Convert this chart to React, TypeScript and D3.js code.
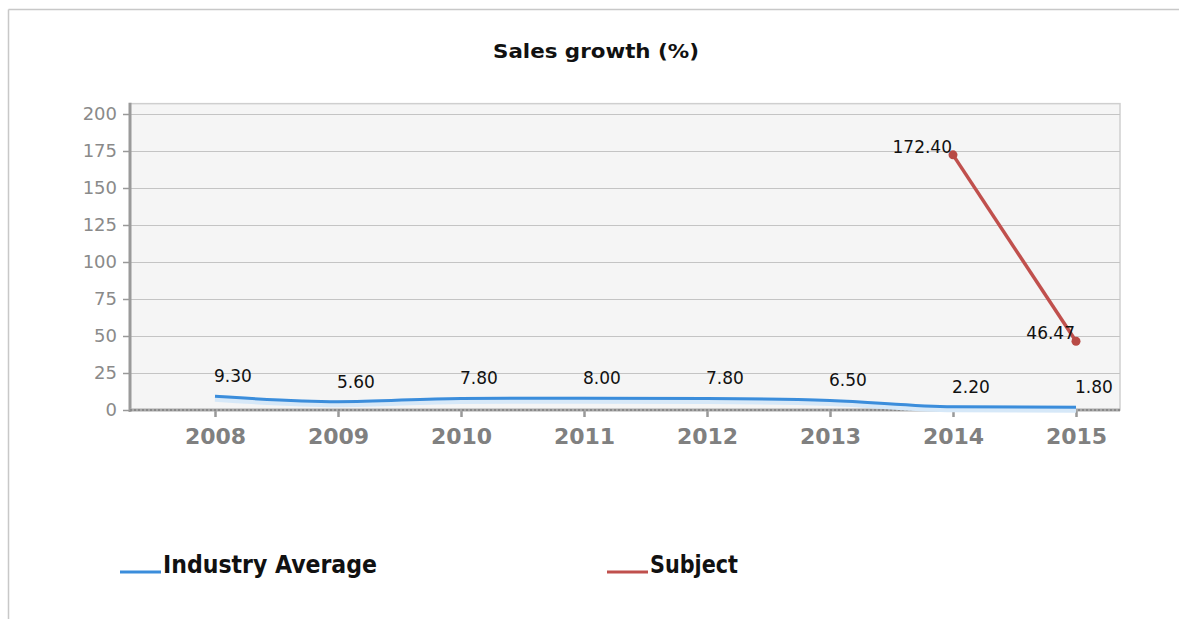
import React, { useRef, useEffect } from 'react';
import * as d3 from 'd3';

const years = ['2008', '2009', '2010', '2011', '2012', '2013', '2014', '2015'];
const industryAverage = [9.3, 5.6, 7.8, 8.0, 7.8, 6.5, 2.2, 1.8];
const subjectYears = ['2014', '2015'];
const subjectValues = [172.4, 46.47];
const yTicks = [0, 25, 50, 75, 100, 125, 150, 175, 200];

const WIDTH = 1179;
const HEIGHT = 619;
const BLUE = '#3b8ddb';
const RED = '#c0504d';

export default function App() {
  const svgRef = useRef<SVGSVGElement>(null);

  useEffect(() => {
    if (!svgRef.current) return;
    const svg = d3.select(svgRef.current);
    svg.selectAll('*').remove();

    const plotLeft = 130;
    const plotRight = 1120;

    const x = d3.scalePoint<string>().domain(years).range([215, 1076]);
    const y = d3.scaleLinear().domain([0, 200]).range([410, 114]);
    const plotTop = y(207);
    const plotBottom = y(0);

    // outer frame (top and left edges only)
    svg.append('line')
      .attr('x1', 8.5).attr('x2', WIDTH).attr('y1', 9.5).attr('y2', 9.5)
      .attr('stroke', '#c8c8c8').attr('stroke-width', 1.5);
    svg.append('line')
      .attr('x1', 8.5).attr('x2', 8.5).attr('y1', 9.5).attr('y2', HEIGHT)
      .attr('stroke', '#c8c8c8').attr('stroke-width', 1.5);

    // title
    svg.append('text')
      .attr('x', 596).attr('y', 58)
      .attr('text-anchor', 'middle')
      .attr('font-family', 'DejaVu Sans, sans-serif')
      .attr('font-weight', 'bold')
      .attr('font-size', 20)
      .attr('textLength', 206)
      .attr('lengthAdjust', 'spacingAndGlyphs')
      .attr('fill', '#111')
      .text('Sales growth (%)');

    // plot background
    svg.append('rect')
      .attr('x', plotLeft).attr('y', plotTop)
      .attr('width', plotRight - plotLeft).attr('height', plotBottom - plotTop)
      .attr('fill', '#f5f5f5')
      .attr('stroke', '#cfcfcf')
      .attr('stroke-width', 1.5);

    // grid
    const g = svg.append('g');
    g.selectAll('.grid')
      .data(yTicks)
      .enter()
      .append('line')
      .attr('x1', plotLeft).attr('x2', plotRight)
      .attr('y1', d => y(d) + 0.5).attr('y2', d => y(d) + 0.5)
      .attr('stroke', '#c4c4c4')
      .attr('stroke-width', 1.2);

    // y axis
    const yAxis = svg.append('g')
      .attr('transform', `translate(${plotLeft},0)`)
      .call(d3.axisLeft(y).tickValues(yTicks).tickSize(7).tickPadding(6).tickSizeOuter(0));
    yAxis.select('.domain').remove();
    yAxis.selectAll('line').attr('stroke', '#999').attr('stroke-width', 1.5);
    yAxis.selectAll('text')
      .attr('font-family', 'DejaVu Sans, sans-serif')
      .attr('font-size', 18)
      .attr('fill', '#8a8a8a');
    svg.append('line')
      .attr('x1', plotLeft).attr('x2', plotLeft)
      .attr('y1', plotTop - 1).attr('y2', plotBottom + 2)
      .attr('stroke', '#9a9a9a').attr('stroke-width', 3);

    // x axis
    const xAxis = svg.append('g')
      .attr('transform', `translate(0,${plotBottom})`)
      .call(d3.axisBottom(x).tickSize(7).tickPadding(11).tickSizeOuter(0));
    xAxis.select('.domain').remove();
    xAxis.selectAll('line').attr('stroke', '#999').attr('stroke-width', 2.5);
    xAxis.selectAll('text')
      .attr('font-family', 'DejaVu Sans, sans-serif')
      .attr('font-weight', 'bold')
      .attr('font-size', 22)
      .attr('fill', '#808080');
    svg.append('line')
      .attr('x1', plotLeft).attr('x2', plotRight)
      .attr('y1', plotBottom).attr('y2', plotBottom)
      .attr('stroke', '#a8a8a8').attr('stroke-width', 3);
    svg.append('line')
      .attr('x1', plotLeft).attr('x2', plotRight)
      .attr('y1', plotBottom).attr('y2', plotBottom)
      .attr('stroke', '#7f7f7f').attr('stroke-width', 1.5)
      .attr('stroke-dasharray', '2,2');

    // industry average line
    const industryData = years.map((yr, i) => ({ yr, v: industryAverage[i] }));
    const industryLine = d3.line<{ yr: string; v: number }>()
      .x(d => x(d.yr) || 0)
      .y(d => y(d.v))
      .curve(d3.curveMonotoneX);
    svg.append('path')
      .datum(industryData)
      .attr('d', industryLine)
      .attr('fill', 'none')
      .attr('stroke', '#d6e8f8')
      .attr('stroke-width', 7)
      .attr('transform', 'translate(0,2)');
    svg.append('path')
      .datum(industryData)
      .attr('d', industryLine)
      .attr('fill', 'none')
      .attr('stroke', BLUE)
      .attr('stroke-width', 3);

    svg.selectAll('.ind-label')
      .data(industryData)
      .enter()
      .append('text')
      .attr('x', d => (x(d.yr) || 0) - 1)
      .attr('y', d => y(d.v) - 14)
      .attr('font-family', 'DejaVu Sans, sans-serif')
      .attr('font-size', 17)
      .attr('fill', '#111')
      .text(d => d.v.toFixed(2));

    // subject line
    const subjectData = subjectYears.map((yr, i) => ({ yr, v: subjectValues[i] }));
    const subjectLine = d3.line<{ yr: string; v: number }>()
      .x(d => x(d.yr) || 0)
      .y(d => y(d.v));
    svg.append('path')
      .datum(subjectData)
      .attr('d', subjectLine)
      .attr('fill', 'none')
      .attr('stroke', RED)
      .attr('stroke-width', 3.5);
    svg.selectAll('.sub-dot')
      .data(subjectData)
      .enter()
      .append('circle')
      .attr('cx', d => x(d.yr) || 0)
      .attr('cy', d => y(d.v))
      .attr('r', 4.5)
      .attr('fill', '#b84a45');
    svg.selectAll('.sub-label')
      .data(subjectData)
      .enter()
      .append('text')
      .attr('x', d => (x(d.yr) || 0) - 1)
      .attr('y', d => y(d.v) - 2)
      .attr('text-anchor', 'end')
      .attr('font-family', 'DejaVu Sans, sans-serif')
      .attr('font-size', 17)
      .attr('fill', '#111')
      .text(d => d.v.toFixed(2));

    // legend
    const legend = [
      { name: 'Industry Average', color: BLUE, x: 120, w: 214 },
      { name: 'Subject', color: RED, x: 607, w: 88 },
    ];
    const lg = svg.selectAll('.legend')
      .data(legend)
      .enter()
      .append('g')
      .attr('transform', d => `translate(${d.x},572)`);
    lg.append('line')
      .attr('x1', 0).attr('x2', 41)
      .attr('y1', 0).attr('y2', 0)
      .attr('stroke', d => d.color)
      .attr('stroke-width', 3);
    lg.append('text')
      .attr('x', 43).attr('y', 1)
      .attr('font-family', 'DejaVu Sans Condensed, DejaVu Sans, sans-serif')
      .attr('font-weight', 'bold')
      .attr('font-size', 24)
      .attr('textLength', d => d.w)
      .attr('lengthAdjust', 'spacingAndGlyphs')
      .attr('fill', '#111')
      .text(d => d.name);
  }, []);

  return (
    <svg
      ref={svgRef}
      width={WIDTH}
      height={HEIGHT}
      style={{ position: 'absolute', left: 0, top: 0, background: '#fff', display: 'block' }}
    />
  );
}
